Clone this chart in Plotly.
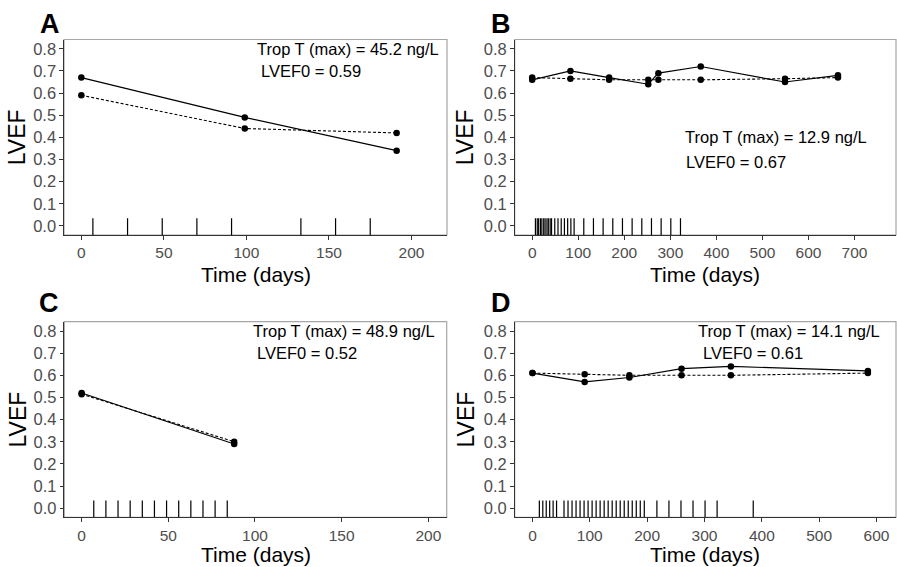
import plotly.graph_objects as go

# ---------------- data ----------------
# Panel A
a_days = [0, 99, 191]
a_solid = [0.67, 0.49, 0.34]
a_dotted = [0.59, 0.44, 0.42]
a_rug = [7, 28, 49, 70, 91, 133, 154, 175]
a_trop = "Trop T (max) = 45.2 ng/L"
a_lvef0 = "LVEF0 = 0.59"

# Panel B
b_days = [0, 83, 167, 252, 274, 366, 549, 664]
b_solid = [0.66, 0.70, 0.67, 0.64, 0.69, 0.72, 0.65, 0.68]
b_dotted = [0.67, 0.665, 0.66, 0.66, 0.66, 0.66, 0.665, 0.67]
b_rug = [7, 11, 14, 18, 21, 25, 28, 32, 35, 39, 42, 49, 56, 63, 70, 77, 84, 91,
         112, 133, 154, 175, 196, 217, 238, 259, 280, 301, 322]
b_trop = "Trop T (max) = 12.9 ng/L"
b_lvef0 = "LVEF0 = 0.67"

# Panel C
c_days = [0, 88]
c_solid = [0.52, 0.29]
c_dotted = [0.515, 0.30]
c_rug = [7, 14, 21, 28, 35, 42, 49, 56, 63, 70, 77, 84]
c_trop = "Trop T (max) = 48.9 ng/L"
c_lvef0 = "LVEF0 = 0.52"

# Panel D
d_days = [0, 91, 169, 260, 346, 585]
d_solid = [0.61, 0.57, 0.59, 0.63, 0.64, 0.62]
d_dotted = [0.61, 0.605, 0.60, 0.60, 0.60, 0.61]
d_rug = [12, 18, 24, 30, 36, 42,
         55, 62, 69, 76, 83, 90, 97, 104, 111, 118, 125, 132, 139, 146, 153, 160,
         167, 174, 181, 188, 195,
         217, 238, 259, 280, 301, 322, 385]
d_trop = "Trop T (max) = 14.1 ng/L"
d_lvef0 = "LVEF0 = 0.61"

panel_letters = ["A", "B", "C", "D"]
x_title = "Time (days)"
y_title = "LVEF"
y_ticks = [0.0, 0.1, 0.2, 0.3, 0.4, 0.5, 0.6, 0.7, 0.8]
y_ticktext = ["0.0", "0.1", "0.2", "0.3", "0.4", "0.5", "0.6", "0.7", "0.8"]
a_xticks = [0, 50, 100, 150, 200]
b_xticks = [0, 100, 200, 300, 400, 500, 600, 700]
c_xticks = [0, 50, 100, 150, 200]
d_xticks = [0, 100, 200, 300, 400, 500, 600]

# ---------------- layout helpers ----------------
W, H = 897, 567
FONT = "Liberation Sans, Arial, sans-serif"
Y_RANGE = [-0.041, 0.842]
RUG_TOP = 0.035

panels = [
    dict(days=a_days, solid=a_solid, dotted=a_dotted, rug=a_rug, trop=a_trop, lvef0=a_lvef0,
         xticks=a_xticks, xrange=[-10.5, 221.5], xpx=(64, 447), ypx=(39.5, 235),
         tpos=(105, 0.80), lpos=(107.5, 0.70), tgap=39),
    dict(days=b_days, solid=b_solid, dotted=b_dotted, rug=b_rug, trop=b_trop, lvef0=b_lvef0,
         xticks=b_xticks, xrange=[-38, 790], xpx=(514.7, 896), ypx=(39.5, 235),
         tpos=(328, 0.40), lpos=(329, 0.29), tgap=39),
    dict(days=c_days, solid=c_solid, dotted=c_dotted, rug=c_rug, trop=c_trop, lvef0=c_lvef0,
         xticks=c_xticks, xrange=[-10, 210.6], xpx=(64.3, 446.7), ypx=(321.7, 517.3),
         tpos=(97.5, 0.80), lpos=(100, 0.70), tgap=37),
    dict(days=d_days, solid=d_solid, dotted=d_dotted, rug=d_rug, trop=d_trop, lvef0=d_lvef0,
         xticks=d_xticks, xrange=[-31, 634], xpx=(514.7, 896), ypx=(321.7, 517.3),
         tpos=(285, 0.80), lpos=(294, 0.70), tgap=37),
]
ytitle_x = [17, 465, 17, 465]

fig = go.Figure()
annotations = []
shapes = []

for i, p in enumerate(panels, start=1):
    xa = "x" if i == 1 else f"x{i}"
    ya = "y" if i == 1 else f"y{i}"
    xkey = "xaxis" if i == 1 else f"xaxis{i}"
    ykey = "yaxis" if i == 1 else f"yaxis{i}"

    # rug
    rx, ry = [], []
    for d in p["rug"]:
        rx += [d, d, None]
        ry += [Y_RANGE[0], RUG_TOP, None]
    fig.add_trace(go.Scatter(x=rx, y=ry, mode="lines", xaxis=xa, yaxis=ya,
                             line=dict(color="black", width=1.2), hoverinfo="skip",
                             showlegend=False))
    # dotted series
    fig.add_trace(go.Scatter(x=p["days"], y=p["dotted"], mode="lines+markers", xaxis=xa, yaxis=ya,
                             line=dict(color="black", width=1.1, dash="3px,2px"),
                             marker=dict(color="black", size=6.5), showlegend=False))
    # solid series
    fig.add_trace(go.Scatter(x=p["days"], y=p["solid"], mode="lines+markers", xaxis=xa, yaxis=ya,
                             line=dict(color="black", width=1.2),
                             marker=dict(color="black", size=6.5), showlegend=False))

    x0, x1 = p["xpx"]
    yt, yb = p["ypx"]
    fig.layout[xkey] = dict(
        domain=[x0 / W, x1 / W], range=p["xrange"], anchor=ya,
        showgrid=False, zeroline=False, showline=True, linecolor="#333333", linewidth=1.2,
        ticks="outside", ticklen=3.5, tickcolor="#333333", tickwidth=1,
        tickvals=p["xticks"], ticktext=[str(v) for v in p["xticks"]],
        tickfont=dict(family=FONT, size=15.5, color="#4d4d4d"),
    )
    fig.layout[ykey] = dict(
        domain=[1 - yb / H, 1 - yt / H], range=Y_RANGE, anchor=xa,
        showgrid=False, zeroline=False, showline=True, linecolor="#333333", linewidth=1.2,
        ticks="outside", ticklen=3.5, tickcolor="#333333", tickwidth=1,
        tickvals=y_ticks, ticktext=y_ticktext,
        tickfont=dict(family=FONT, size=16.5, color="#4d4d4d"),
    )

    # panel border (light grey)
    xd = "x domain" if i == 1 else f"x{i} domain"
    yd = "y domain" if i == 1 else f"y{i} domain"
    shapes.append(dict(type="rect", xref=xd, yref=yd, x0=0, x1=1, y0=0, y1=1,
                       line=dict(color="#a6a6a6", width=1.2), layer="below"))

    # axis titles
    annotations.append(dict(x=(x0 + x1) / 2 / W, y=1 - (yb + p["tgap"]) / H, xref="paper", yref="paper",
                            text=x_title, showarrow=False, xanchor="center", yanchor="middle",
                            font=dict(family=FONT, size=21, color="black")))
    annotations.append(dict(x=ytitle_x[i - 1] / W, y=1 - (yt + yb) / 2 / H, xref="paper", yref="paper",
                            text=y_title, showarrow=False, xanchor="center", yanchor="middle",
                            textangle=-90, font=dict(family=FONT, size=23, color="black")))

    # text annotations
    annotations.append(dict(x=p["tpos"][0], y=p["tpos"][1], xref=xa, yref=ya, text=p["trop"],
                            showarrow=False, xanchor="left", yanchor="middle",
                            font=dict(family=FONT, size=16.5, color="black")))
    annotations.append(dict(x=p["lpos"][0], y=p["lpos"][1], xref=xa, yref=ya, text=p["lvef0"],
                            showarrow=False, xanchor="left", yanchor="middle",
                            font=dict(family=FONT, size=16.5, color="black")))

# panel letters
letter_pos = [(49.5, 24), (500.5, 24), (49, 303), (500.5, 303)]
for lab, (lx, ly) in zip(panel_letters, letter_pos):
    annotations.append(dict(x=lx / W, y=1 - ly / H, xref="paper", yref="paper", text=f"<b>{lab}</b>",
                            showarrow=False, xanchor="center", yanchor="middle",
                            font=dict(family=FONT, size=27, color="black")))

fig.update_layout(width=W, height=H, margin=dict(l=0, r=0, t=0, b=0),
                  paper_bgcolor="white", plot_bgcolor="white",
                  annotations=annotations, shapes=shapes, showlegend=False)

fig.write_html("out.html", config={"displayModeBar": False},
               post_script="document.body.style.margin='0';document.body.style.overflow='hidden';")
